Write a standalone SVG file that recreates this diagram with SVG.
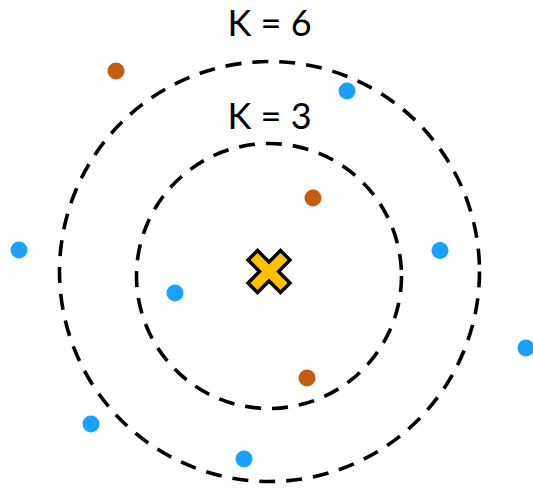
<svg xmlns="http://www.w3.org/2000/svg" width="533" height="491" viewBox="0 0 533 491">
<style>
.ring{fill:none;stroke:#000;stroke-width:3.6;stroke-dasharray:16 11}
.lbl{font-family:Lato,"Liberation Sans",sans-serif;font-size:36px;fill:#000;text-anchor:middle}
.o{fill:#c55a11}
.b{fill:#1aa1ff}
</style>
<rect width="533" height="491" fill="#fff"/>
<g id="connectors">
<circle id="ring-k6" class="ring" cx="269.5" cy="271.5" r="210"/>
<circle id="ring-k3" class="ring" cx="269" cy="276" r="132.5"/>
</g>
<g id="label-k6"><text class="lbl" x="269.5" y="36">K = 6</text></g>
<g id="label-k3"><text class="lbl" x="269.5" y="129">K = 3</text></g>
<g id="query">
<polygon transform="translate(269,271.5)" fill="#ffc000" stroke="#000" stroke-width="3.4" stroke-linejoin="miter" points="-21,-11.5 -11.5,-21 0,-9.5 11.5,-21 21,-11.5 9.5,0 21,11.5 11.5,21 0,9.5 -11.5,21 -21,11.5 -9.5,0"/>
</g>
<g id="p1"><circle class="o" cx="116" cy="71" r="8.5"/></g>
<g id="p2"><circle class="b" cx="347" cy="91" r="8.5"/></g>
<g id="p3"><circle class="o" cx="313" cy="198" r="8.5"/></g>
<g id="p4"><circle class="b" cx="19" cy="250" r="8.5"/></g>
<g id="p5"><circle class="b" cx="440" cy="250.5" r="8.5"/></g>
<g id="p6"><circle class="b" cx="175" cy="293" r="8.5"/></g>
<g id="p7"><circle class="b" cx="526" cy="348" r="8.5"/></g>
<g id="p8"><circle class="o" cx="307" cy="378" r="8.5"/></g>
<g id="p9"><circle class="b" cx="91" cy="424" r="8.5"/></g>
<g id="p10"><circle class="b" cx="244" cy="459" r="8.5"/></g>
</svg>
